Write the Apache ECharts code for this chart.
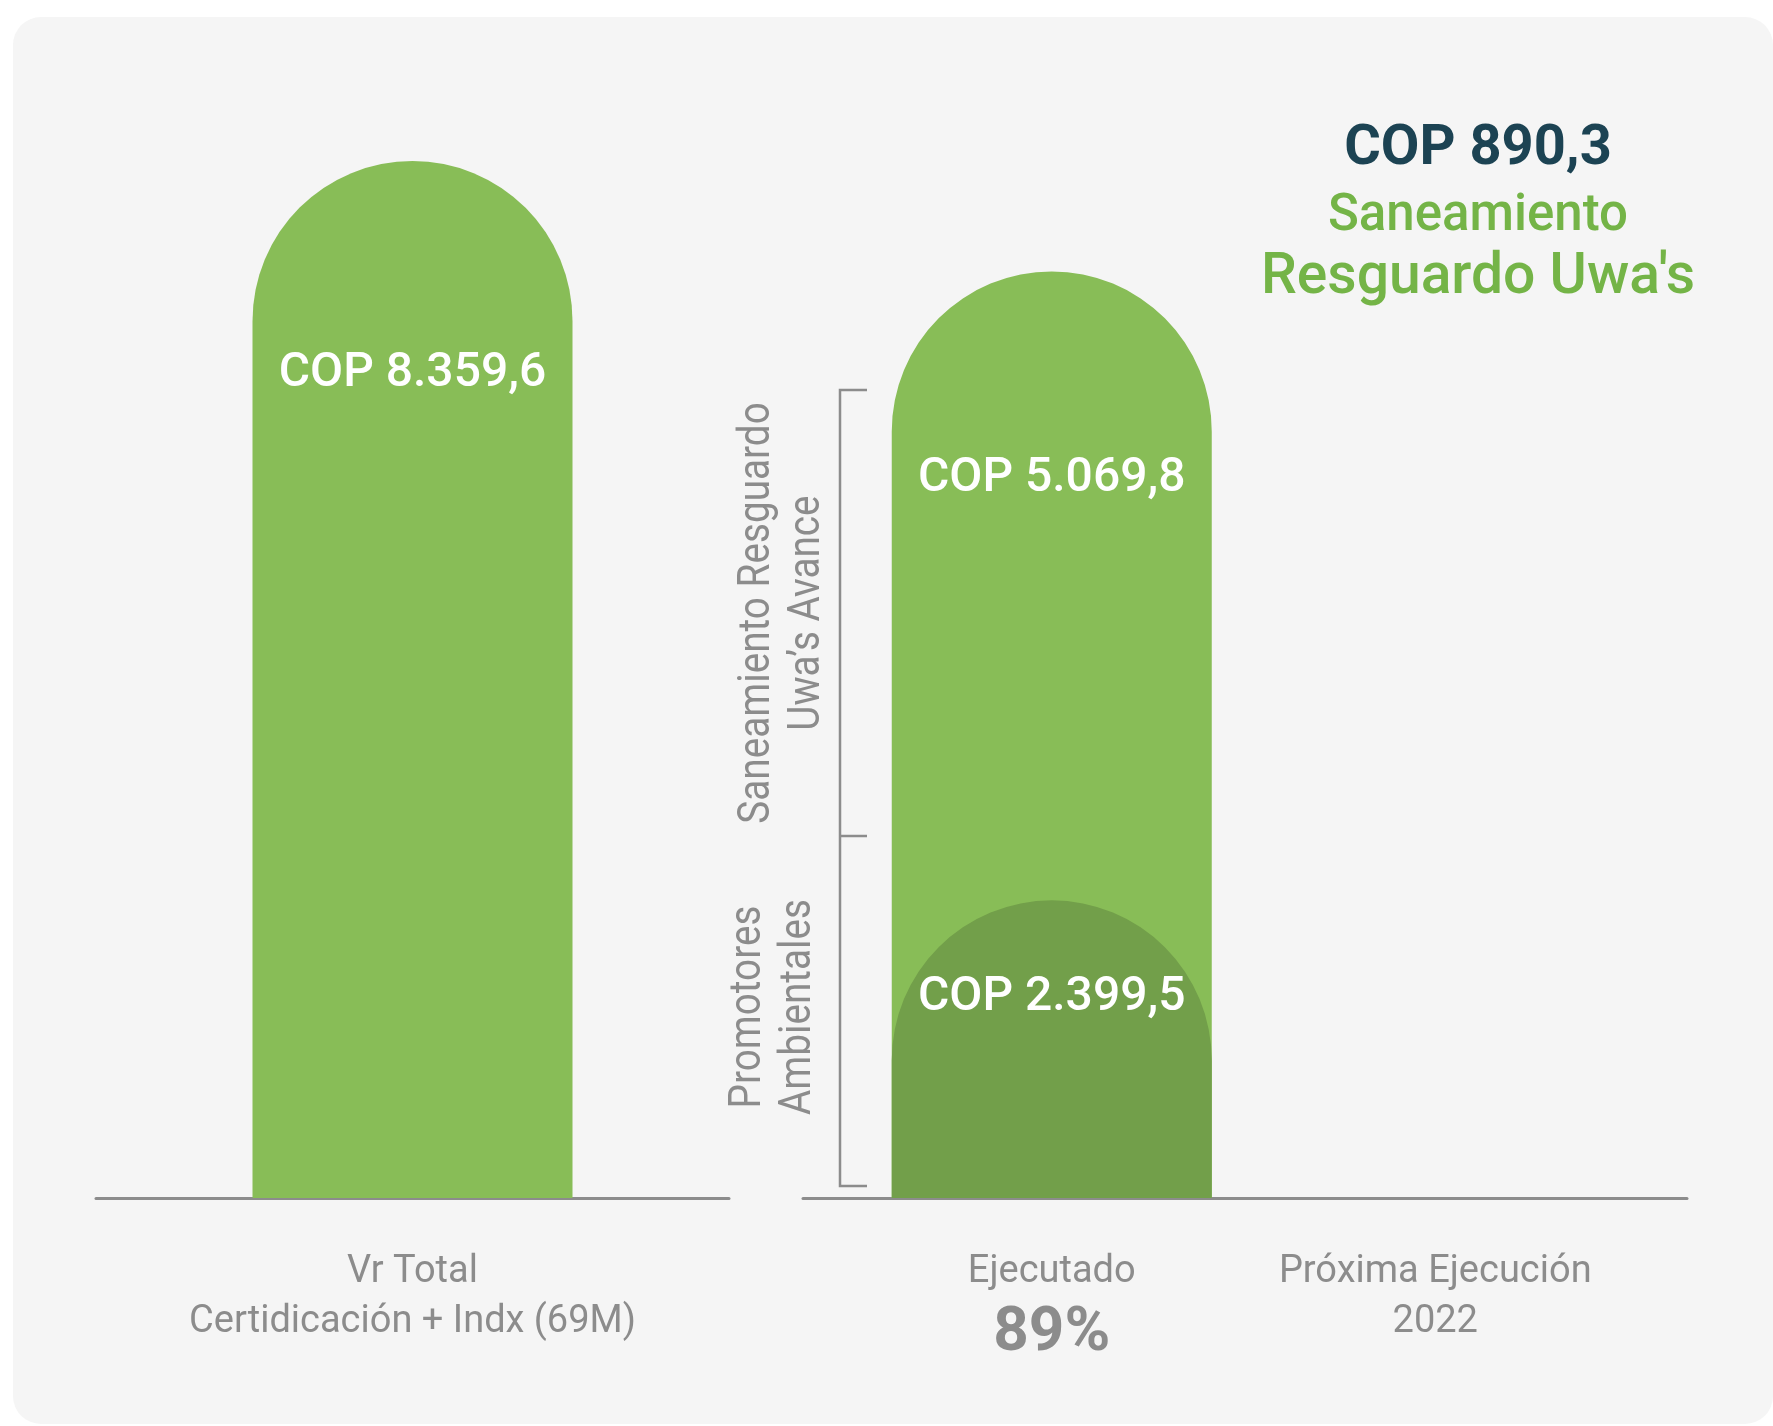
<!DOCTYPE html>
<html>
<head>
<meta charset="utf-8">
<title>Saneamiento Resguardo Uwa's</title>
<script src="https://cdn.jsdelivr.net/npm/echarts@6/dist/echarts.min.js"></script>
<style>
  html, body { margin: 0; padding: 0; background: #ffffff; }
  #chart { width: 1773px; height: 1426px; }
</style>
</head>
<body>
<div id="chart"></div>
<script>
// Values in millions of COP
const leftCategories = ['Vr Total\nCertidicación + Indx (69M)'];
const rightCategories = ['Ejecutado', 'Próxima Ejecución\n2022'];
const totalValues = [8359.6];
const promotoresValues = [2399.5, '-'];
const saneamientoValues = [5069.8, '-'];
const proximaValue = 890.3;
const headlineLines = ['Saneamiento', "Resguardo Uwa's"];
const bracketLabels = ['Saneamiento Resguardo\nUwa’s Avance', 'Promotores\nAmbientales'];

// Executed bar = both executed components together
const ejecutadoValues = promotoresValues.map((v, i) =>
  v === '-' ? '-' : Math.round((v + saneamientoValues[i]) * 10) / 10);
const ejecutadoPct = Math.round(ejecutadoValues[0] / totalValues[0] * 100);

function formatCOP(v) {
  const parts = v.toFixed(1).split('.');
  const intPart = parts[0].replace(/\B(?=(\d{3})+(?!\d))/g, '.');
  return 'COP ' + intPart + ',' + parts[1];
}

const GREEN = '#88bd57';
const DARK_GREEN = '#729f4a';
const GREY = '#8c8c8c';
const SANS = "Roboto, 'Noto Sans', sans-serif";

const plotTop = 161;
const plotHeight = 1037;

const barLabel = (distance, formatter) => ({
  show: true,
  position: 'insideTop',
  distance: distance,
  color: '#ffffff',
  fontFamily: SANS,
  fontWeight: 500,
  fontSize: 48,
  lineHeight: 56,
  formatter: formatter
});

const chart = echarts.init(document.getElementById('chart'), null, { renderer: 'canvas' });

chart.setOption({
  backgroundColor: '#ffffff',
  animation: false,
  grid: [
    { left: 96, width: 633, top: plotTop, height: plotHeight },
    { left: 860, width: 767, top: plotTop, height: plotHeight },
    { left: 803, width: 884, top: plotTop, height: plotHeight }
  ],
  xAxis: [
    {
      gridIndex: 0, type: 'category', data: leftCategories,
      axisLine: { lineStyle: { color: GREY, width: 3 } },
      axisTick: { show: false },
      axisLabel: { margin: 49, color: GREY, fontFamily: SANS, fontSize: 38, lineHeight: 50, interval: 0 }
    },
    {
      gridIndex: 1, type: 'category', data: rightCategories,
      axisLine: { show: false },
      axisTick: { show: false },
      axisLabel: {
        margin: 49, color: GREY, fontFamily: SANS, fontSize: 38, lineHeight: 50, interval: 0,
        formatter: (val, idx) => idx === 0 ? val + '\n{pct|' + ejecutadoPct + '%}' : val,
        rich: {
          pct: { fontFamily: SANS, fontWeight: 'bold', fontSize: 62, lineHeight: 74, color: GREY }
        }
      }
    },
    {
      gridIndex: 2, type: 'category', data: [''],
      axisLine: { lineStyle: { color: GREY, width: 3 } },
      axisTick: { show: false },
      axisLabel: { show: false }
    }
  ],
  yAxis: [
    { gridIndex: 0, type: 'value', min: 0, max: totalValues[0], show: false },
    { gridIndex: 1, type: 'value', min: 0, max: totalValues[0], show: false },
    { gridIndex: 2, type: 'value', min: 0, max: totalValues[0], show: false }
  ],
  series: [
    {
      name: 'Vr Total', type: 'bar', xAxisIndex: 0, yAxisIndex: 0,
      data: totalValues, barWidth: 320,
      itemStyle: { color: GREEN, borderRadius: [160, 160, 0, 0] },
      label: barLabel(185, p => formatCOP(totalValues[p.dataIndex]))
    },
    {
      name: 'Ejecutado', type: 'bar', xAxisIndex: 1, yAxisIndex: 1,
      data: ejecutadoValues, barWidth: 320, barGap: '-100%',
      itemStyle: { color: GREEN, borderRadius: [160, 160, 0, 0] },
      label: barLabel(180, p => formatCOP(saneamientoValues[p.dataIndex]))
    },
    {
      name: 'Promotores Ambientales', type: 'bar', xAxisIndex: 1, yAxisIndex: 1,
      data: promotoresValues, barWidth: 320, barGap: '-100%',
      itemStyle: { color: DARK_GREEN, borderRadius: [160, 160, 0, 0] },
      label: barLabel(70, p => formatCOP(promotoresValues[p.dataIndex]))
    }
  ],
  graphic: [
    // card background
    {
      type: 'rect', z: -100, silent: true,
      shape: { x: 13, y: 17, width: 1760, height: 1407, r: 28 },
      style: { fill: '#f5f5f5' }
    },
    // bracket beside the executed bar
    {
      type: 'polyline', z: 10, silent: true,
      shape: { points: [[867, 390], [840, 390], [840, 1186], [867, 1186]] },
      style: { stroke: GREY, lineWidth: 2.5, fill: null }
    },
    {
      type: 'line', z: 10, silent: true,
      shape: { x1: 840, y1: 836, x2: 867, y2: 836 },
      style: { stroke: GREY, lineWidth: 2.5 }
    },
    {
      type: 'text', z: 10, x: 783, y: 613, rotation: Math.PI / 2, scaleX: 0.88,
      style: {
        text: bracketLabels[0], fill: GREY, fontFamily: SANS, fontSize: 44,
        lineHeight: 50, align: 'center', verticalAlign: 'middle'
      }
    },
    {
      type: 'text', z: 10, x: 774, y: 1007, rotation: Math.PI / 2, scaleX: 0.88,
      style: {
        text: bracketLabels[1], fill: GREY, fontFamily: SANS, fontSize: 44,
        lineHeight: 50, align: 'center', verticalAlign: 'middle'
      }
    },
    // headline at the top right
    {
      type: 'text', z: 10, x: 1478, y: 150,
      style: {
        text: formatCOP(proximaValue), fill: '#1c4353', fontFamily: SANS,
        fontWeight: 'bold', fontSize: 56, align: 'center', verticalAlign: 'middle'
      }
    },
    {
      type: 'text', z: 10, x: 1478, y: 217,
      style: {
        text: headlineLines[0], fill: '#74b447', fontFamily: SANS,
        fontWeight: 500, fontSize: 51, align: 'center', verticalAlign: 'middle'
      }
    },
    {
      type: 'text', z: 10, x: 1478, y: 279,
      style: {
        text: headlineLines[1], fill: '#74b447', fontFamily: SANS,
        fontWeight: 500, fontSize: 57, align: 'center', verticalAlign: 'middle'
      }
    }
  ]
});
</script>
</body>
</html>
